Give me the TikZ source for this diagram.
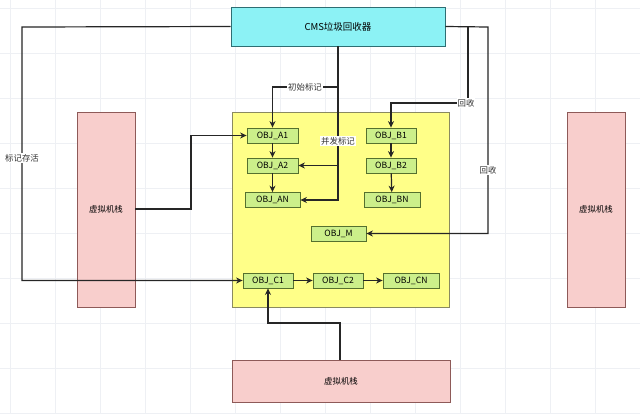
\documentclass[tikz,border=0pt]{standalone}
\usepackage{fontspec}
\setmainfont{Noto Sans CJK SC}
\usetikzlibrary{arrows.meta}
\definecolor{cmsfill}{HTML}{8CF2F5}
\definecolor{cmsdraw}{HTML}{2E6E73}
\definecolor{yfill}{HTML}{FFFF88}
\definecolor{ydraw}{HTML}{8A8A60}
\definecolor{pfill}{HTML}{F8CECC}
\definecolor{pdraw}{HTML}{8E5A58}
\definecolor{gfill}{HTML}{CCEF8A}
\definecolor{gdraw}{HTML}{55702E}
\definecolor{line}{HTML}{262626}
\definecolor{gridc}{HTML}{EEF0F4}
\tikzset{
  box/.style={draw, line width=0.8pt, inner sep=0pt, align=center},
  obj/.style={box, fill=gfill, draw=gdraw, minimum height=15pt, font=\fontsize{8.6}{9}\selectfont},
  vm/.style={box, fill=pfill, draw=pdraw, font=\fontsize{8.4}{9}\selectfont},
  conn/.style={draw=line, line width=1.2pt},
  arr/.style={conn, -{Stealth[length=6.5pt,width=6pt]}},
  lbl/.style={fill=white, inner sep=1pt, font=\fontsize{8.4}{9}\selectfont, text=black!80}
}
\begin{document}
\begin{tikzpicture}[x=1pt,y=-1pt]
\useasboundingbox (0,0) rectangle (640,413);
\fill[white] (0,0) rectangle (640,413);
\foreach \i in {0,45,...,640} \draw[gridc, line width=0.6pt] (\i+10,0) -- (\i+10,413);
\foreach \j in {0,45,...,413} \draw[gridc, line width=0.6pt] (0,\j+8) -- (640,\j+8);

\node[box, fill=cmsfill, draw=cmsdraw, minimum width=214pt, minimum height=39pt, font=\fontsize{9.5}{10}\selectfont] (cms) at (338,26.5) {CMS垃圾回收器};
\node[box, fill=yfill, draw=ydraw, minimum width=217pt, minimum height=195pt] (heap) at (340.5,209.5) {};
\node[vm, minimum width=58pt, minimum height=195pt] (vml) at (106,209.5) {虚拟机栈};
\node[vm, minimum width=58pt, minimum height=195pt] (vmr) at (596,209.5) {虚拟机栈};
\node[vm, minimum width=218pt, minimum height=42pt] (vmb) at (341,381) {虚拟机栈};

\node[obj, minimum width=51pt] (A1) at (272.5,135.5) {OBJ\_A1};
\node[obj, minimum width=51pt] (A2) at (272.5,165.5) {OBJ\_A2};
\node[obj, minimum width=55pt] (AN) at (272.5,200) {OBJ\_AN};
\node[obj, minimum width=50pt] (B1) at (391,135.5) {OBJ\_B1};
\node[obj, minimum width=50pt] (B2) at (391,165.5) {OBJ\_B2};
\node[obj, minimum width=56pt] (BN) at (392,200) {OBJ\_BN};
\node[obj, minimum width=55pt] (M) at (338.5,233.5) {OBJ\_M};
\node[obj, minimum width=50pt] (C1) at (268,280.5) {OBJ\_C1};
\node[obj, minimum width=50pt] (C2) at (338,280.5) {OBJ\_C2};
\node[obj, minimum width=56pt] (CN) at (411,280.5) {OBJ\_CN};

\coordinate (lt) at (22,27);
\coordinate (lb) at (22,280.5);
\coordinate (im) at (338,87);
\coordinate (il) at (272.5,87);
\coordinate (ct) at (338,46);
\coordinate (rt1) at (468,27);
\coordinate (rb1) at (468,103);
\coordinate (rl1) at (391,103);
\coordinate (rt2) at (488,27);
\coordinate (rb2) at (488,233.5);
\coordinate (vl1) at (191,209);
\coordinate (vl2) at (191,135.5);
\coordinate (vb0) at (340,360);
\coordinate (vb1) at (340,323);
\coordinate (vb2) at (268,323);

\draw[arr] (cms.west) -- (lt) -- (lb) -- (C1.west);
\draw[arr] (ct) -- (im) -- (il) -- (A1.north);
\draw[arr] (ct) |- (A2.east);
\draw[arr] (ct) |- (AN.east);
\draw[arr] (cms.east) -- (rt2) -- (rb2) -- (M.east);
\draw[arr] (rt1) -- (rb1) -- (rl1) -- (B1.north);
\draw[arr] (vml.east |- vl1) -- (vl1) -- (vl2) -- (A1.west);
\draw[arr] (vb0) -- (vb1) -- (vb2) -- (C1.south);

\draw[arr] (A1) -- (A2);
\draw[arr] (A2) -- (AN);
\draw[arr] (B1) -- (B2);
\draw[arr] (B2) -- (BN);
\draw[arr] (C1) -- (C2);
\draw[arr] (C2) -- (CN);

\node[lbl] (l1) at (22,158) {标记存活};
\node[lbl] (l2) at (305,87) {初始标记};
\node[lbl] (l3) at (338,141) {并发标记};
\node[lbl] (l4) at (466,103) {回收};
\node[lbl] (l5) at (488,170) {回收};
\end{tikzpicture}
\end{document}
